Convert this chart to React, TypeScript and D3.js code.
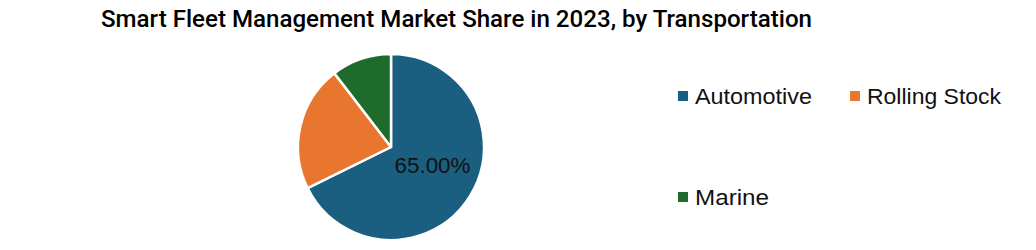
import React from "react";
import * as d3 from "d3";

const title = "Smart Fleet Management Market Share in 2023, by Transportation";
const categories = ["Automotive", "Rolling Stock", "Marine"];
const values = [65, 21, 10];
const colors = ["#1a5f80", "#e8762f", "#1f6b2c"];
const shownLabel = "65.00%";

export default function App() {
  const W = 1036, H = 250;
  const cx = 391, cy = 147, r = 93;
  const data = categories.map((c, i) => ({ c, v: values[i], col: colors[i] }));
  const pie = d3.pie<any>().value((d: any) => d.v).sort(null);
  const arcs = pie(data);
  const arc = d3.arc<any>().innerRadius(0).outerRadius(r);
  const legendPos = [
    { x: 678, y: 96 },
    { x: 850, y: 96 },
    { x: 678, y: 197 },
  ];
  const legendWidths = [117, 134, 74];
  const c0 = arc.centroid(arcs[0] as any);
  return (
    <svg width={W} height={H} style={{ position: "absolute", left: 0, top: 0, display: "block", background: "#fff" }}>
      <text x={101} y={27} fontFamily="Roboto, 'Liberation Sans', Arial, sans-serif" fontSize={23} fontWeight={500} fill="#000" textLength={711} lengthAdjust="spacingAndGlyphs">{title}</text>
      <g transform={`translate(${cx},${cy})`}>
        {arcs.map((a, i) => (
          <path key={i} d={arc(a as any) || ""} fill={data[i].col} stroke="#fff" strokeWidth={2.5} strokeLinejoin="round" />
        ))}
        <text x={c0[0] + 2} y={c0[1] - 6} textAnchor="middle" dominantBaseline="central" fontFamily="'Liberation Sans', Arial, sans-serif" fontSize={22} fill="#111" textLength={76} lengthAdjust="spacingAndGlyphs">{shownLabel}</text>
      </g>
      {categories.map((c, i) => (
        <g key={c}>
          <rect x={legendPos[i].x} y={legendPos[i].y - 5} width={10} height={10} fill={colors[i]} />
          <text x={legendPos[i].x + 17} y={legendPos[i].y + 7.5} fontFamily="'Liberation Sans', Arial, sans-serif" fontSize={22} fill="#111" textLength={legendWidths[i]} lengthAdjust="spacingAndGlyphs">{c}</text>
        </g>
      ))}
    </svg>
  );
}
